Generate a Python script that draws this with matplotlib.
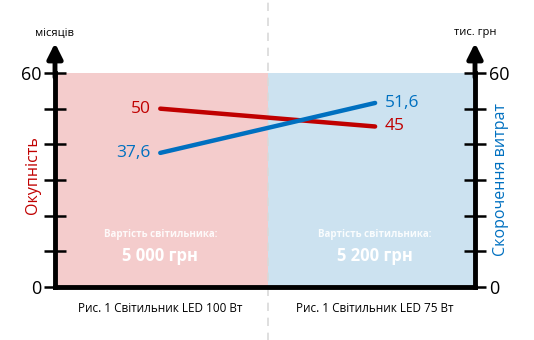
import matplotlib
matplotlib.use("Agg")
import matplotlib.pyplot as plt

plt.rcParams['font.family'] = ['Open Sans', 'DejaVu Sans']

categories = ["Рис. 1 Світильник LED 100 Вт", "Рис. 1 Світильник LED 75 Вт"]
payback = [50, 45]          # Окупність, місяців
savings = [37.6, 51.6]      # Скорочення витрат, тис. грн
payback_labels = ["50", "45"]
savings_labels = ["37,6", "51,6"]
prices = ["5 000 грн", "5 200 грн"]
y_ticks = [0, 10, 20, 30, 40, 50, 60]
y_ticklabels = ["0", "", "", "", "", "", "60"]

RED = "#c00000"
BLUE = "#0070c0"
PINK = "#f4cccc"
LIGHTBLUE = "#cce2f0"

fig = plt.figure(figsize=(5.34, 3.4), dpi=100)
ax = fig.add_axes([55 / 534, 53 / 340, 420 / 534, 214 / 340])
ax.set_xlim(-0.49, 1.465)
ax.set_ylim(0, 60)

ax.axvspan(-0.49, 0.5, color=PINK, lw=0, zorder=0)
ax.axvspan(0.5, 1.465, color=LIGHTBLUE, lw=0, zorder=0)
ax.axvline(0.5, ymin=-0.3, ymax=1.5, color="#d9d9d9", lw=1.2, ls=(0, (5, 4)),
           clip_on=False, zorder=1)

x = [0, 1]
ax.plot(x, payback, color=RED, lw=3.2, solid_capstyle="round", zorder=3)
ax.plot(x, savings, color=BLUE, lw=3.2, solid_capstyle="round", zorder=3)

ax.text(x[0] - 0.045, payback[0], payback_labels[0], color=RED, fontsize=12.5,
        ha="right", va="center")
ax.text(x[1] + 0.045, payback[1], payback_labels[1], color=RED, fontsize=12.5,
        ha="left", va="center")
ax.text(x[0] - 0.045, savings[0], savings_labels[0], color=BLUE, fontsize=12.5,
        ha="right", va="center")
ax.text(x[1] + 0.045, savings[1], savings_labels[1], color=BLUE, fontsize=12.5,
        ha="left", va="center")

for xi, price in zip(x, prices):
    ax.text(xi, 14.8, "Вартість світильника:", color="white", fontsize=7,
            fontweight="bold", ha="center", va="center", alpha=0.9)
    ax.text(xi, 8.8, price, color="white", fontsize=12, fontweight="bold",
            ha="center", va="center")

for xi, cat in zip(x, categories):
    ax.text(xi, -6.0, cat, color="black", fontsize=8.5, ha="center", va="center")

# axes frame
ax.spines["top"].set_visible(False)
for side in ("left", "right", "bottom"):
    ax.spines[side].set_linewidth(3.5)
    ax.spines[side].set_color("black")
    ax.spines[side].set_zorder(4)
ax.spines["bottom"].set_capstyle("projecting")

ax.set_xticks([])
ax.set_yticks(y_ticks)
ax.set_yticklabels(y_ticklabels)
ax.tick_params(axis="y", which="both", left=True, right=True, labelleft=True,
               labelright=True, direction="inout", length=16, width=1.8,
               labelsize=13, pad=2)

# axis arrows
for xf in (0, 1):
    ax.annotate("", xy=(xf, 1.14), xytext=(xf, 0.98), xycoords="axes fraction",
                arrowprops=dict(arrowstyle="-|>,head_length=0.9,head_width=0.45",
                                color="black", lw=3.5, shrinkA=0, shrinkB=0))

ax.text(0, 1.187, "місяців", transform=ax.transAxes, fontsize=8,
        ha="center", va="center")
ax.text(1, 1.187, "тис. грн", transform=ax.transAxes, fontsize=8,
        ha="center", va="center")

fig.text(33 / 534, 1 - 175 / 340, "Окупність", color=RED, fontsize=11.5,
         rotation=90, ha="center", va="center")
fig.text(501 / 534, 1 - 180 / 340, "Скорочення витрат", color=BLUE,
         fontsize=11.5, rotation=90, ha="center", va="center")

fig.savefig("out.png", dpi=100)
